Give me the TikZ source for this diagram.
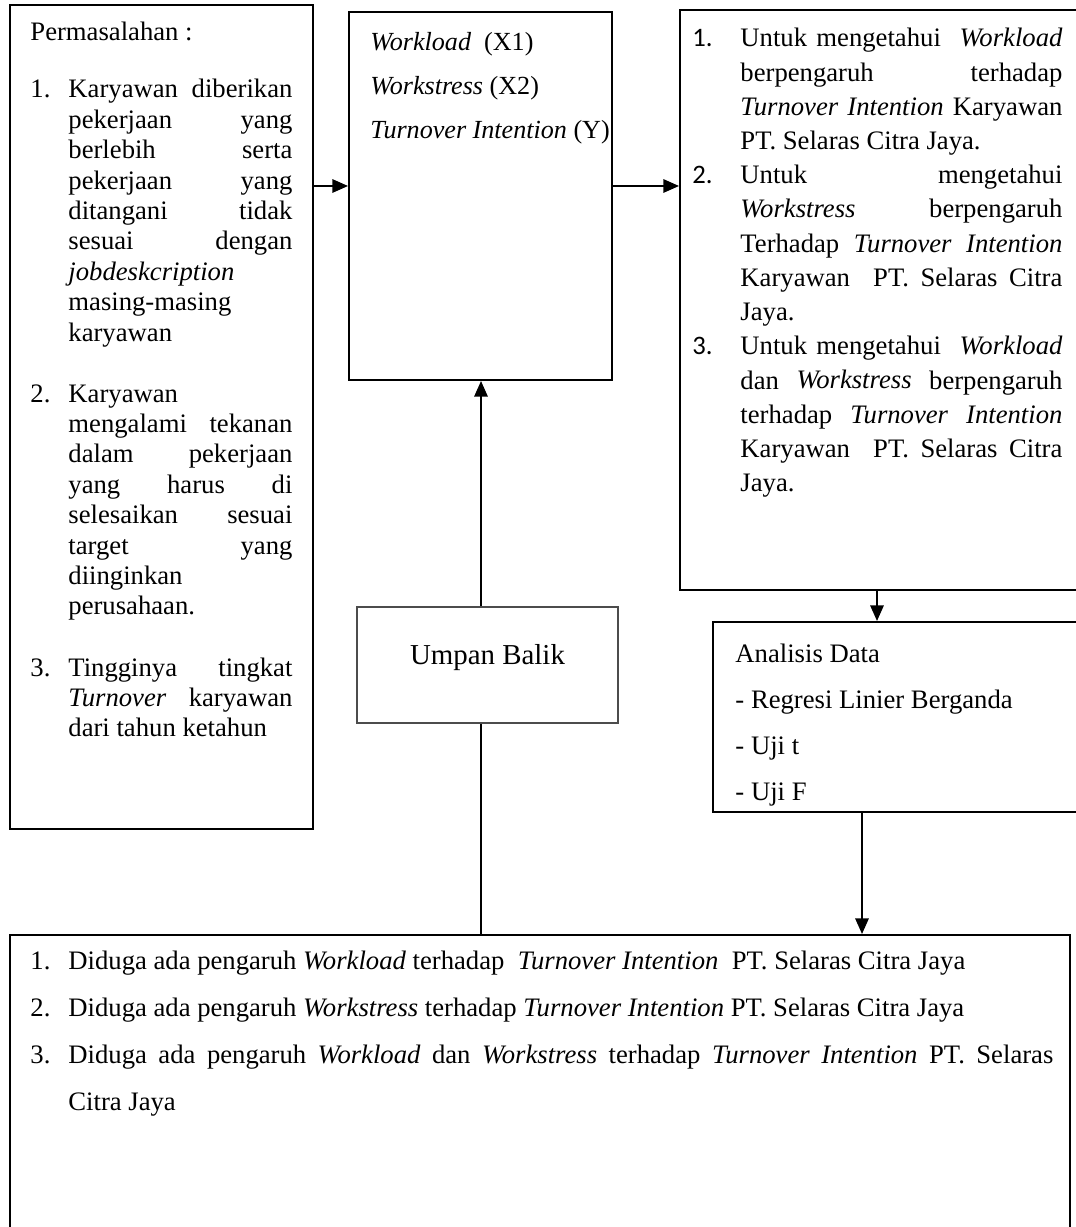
\documentclass[tikz,border=0pt]{standalone}
\usepackage{fontspec}
\setmainfont{Liberation Serif}
\newfontfamily\calibrifont{Carlito}
\usetikzlibrary{arrows.meta,fit}
\newlength\pxu
\setlength\pxu{0.45pt}
\newcommand\jl[1]{\makebox[\linewidth][s]{#1}}
\hbadness=10000
\begin{document}
\begin{tikzpicture}[x=0.45pt,y=-0.45pt,
  box/.style={draw, line width=0.9pt, inner sep=0pt},
  thinbox/.style={draw=black!70, line width=0.55pt, inner sep=0pt},
  txt/.style={inner sep=0pt, anchor=base west, font=\fontsize{12}{14}\selectfont},
  arr/.style={line width=0.8pt, -{Triangle[length=7pt,width=6pt]}},
  ln/.style={line width=0.8pt}]
\useasboundingbox (0,0) rectangle (1075,1227);

% boxes
\node[box, fit={(10,5)(313,829)}] (L) {};
\node[box, fit={(349,12)(612,380)}] (M) {};
\node[box, fit={(680,10)(1082,590)}] (R) {};
\node[box, fit={(713,622)(1082,812)}] (A) {};
\node[thinbox, fit={(357,607)(618,723)}] (U) {};
\node[box, fit={(10,935)(1070,1240)}] (B) {};

% left box text
\node[txt] (Lh) at (30,41) {Permasalahan :};
\node[txt] (Ln1) at (30,98) {1.};
\node[txt] (Lt1) at (68,98) {\parbox[t]{224\pxu}{\fontsize{12}{13.68}\selectfont
\jl{Karyawan diberikan}\\
\jl{pekerjaan yang}\\
\jl{berlebih serta}\\
\jl{pekerjaan yang}\\
\jl{ditangani tidak}\\
\jl{sesuai dengan}\\
\textit{jobdeskcription}\\
masing-masing\\
karyawan}};
\node[txt] (Ln2) at (30,402) {2.};
\node[txt] (Lt2) at (68,402) {\parbox[t]{224\pxu}{\fontsize{12}{13.68}\selectfont
Karyawan\\
\jl{mengalami tekanan}\\
\jl{dalam pekerjaan}\\
\jl{yang harus di}\\
\jl{selesaikan sesuai}\\
\jl{target yang}\\
diinginkan\\
perusahaan.}};
\node[txt] (Ln3) at (30,676) {3.};
\node[txt] (Lt3) at (68,676) {\parbox[t]{224\pxu}{\fontsize{12}{13.68}\selectfont
\jl{Tingginya tingkat}\\
\jl{\textit{Turnover} karyawan}\\
dari tahun ketahun}};

% middle box text
\node[txt] (Mt) at (370,51) {\parbox[t]{300\pxu}{\fontsize{11.75}{19.8}\selectfont
\textit{Workload}\ \ (X1)\\
\textit{Workstress} (X2)\\
\textit{Turnover Intention} (Y)}};

% right box text
\node[txt, font=\calibrifont\fontsize{12}{14}\selectfont] (Rn1) at (692,47) {1.};
\node[txt] (Rt1) at (740,47) {\parbox[t]{322\pxu}{\fontsize{12}{15.39}\selectfont
\jl{Untuk mengetahui \ \textit{Workload}}\\
\jl{berpengaruh terhadap}\\
\jl{\textit{Turnover Intention} Karyawan}\\
PT. Selaras Citra Jaya.}};
\node[txt, font=\calibrifont\fontsize{12}{14}\selectfont] (Rn2) at (692,183.8) {2.};
\node[txt] (Rt2) at (740,183.8) {\parbox[t]{322\pxu}{\fontsize{12}{15.39}\selectfont
\jl{Untuk mengetahui}\\
\jl{\textit{Workstress} berpengaruh}\\
\jl{Terhadap \textit{Turnover Intention}}\\
\jl{Karyawan \ PT. Selaras Citra}\\
Jaya.}};
\node[txt, font=\calibrifont\fontsize{12}{14}\selectfont] (Rn3) at (692,354.8) {3.};
\node[txt] (Rt3) at (740,354.8) {\parbox[t]{322\pxu}{\fontsize{12}{15.39}\selectfont
\jl{Untuk mengetahui \ \textit{Workload}}\\
\jl{dan \textit{Workstress} berpengaruh}\\
\jl{terhadap \textit{Turnover Intention}}\\
\jl{Karyawan \ PT. Selaras Citra}\\
Jaya.}};

% analisis
\node[txt] (At) at (735,662) {\parbox[t]{330\pxu}{\fontsize{12}{20.7}\selectfont
Analisis Data\\
- Regresi Linier Berganda\\
- Uji t\\
- Uji F}};

% umpan balik
\node[inner sep=0pt, anchor=base, font=\fontsize{13}{15}\selectfont] (Ut) at (487.5,664) {Umpan Balik};

% bottom box
\node[txt] (Bn1) at (30,969) {1.};
\node[txt] (Bt1) at (68,969) {Diduga ada pengaruh \textit{Workload} terhadap\ \ \textit{Turnover Intention}\ \ PT. Selaras Citra Jaya};
\node[txt] (Bn2) at (30,1016) {2.};
\node[txt] (Bt2) at (68,1016) {Diduga ada pengaruh \textit{Workstress} terhadap \textit{Turnover Intention} PT. Selaras Citra Jaya};
\node[txt] (Bn3) at (30,1063) {3.};
\node[txt] (Bt3) at (68,1063) {\parbox[t]{985\pxu}{\fontsize{12}{21.15}\selectfont
\jl{Diduga ada pengaruh \textit{Workload} dan \textit{Workstress} terhadap \textit{Turnover Intention} PT. Selaras}\\
Citra Jaya}};

% connectors
\coordinate (ya) at (0,186);
\coordinate (xb) at (877,0);
\coordinate (xc) at (862,0);
\coordinate (xd) at (481,0);
\draw[arr] (ya -| L.east) -- (ya -| M.west);
\draw[arr] (ya -| M.east) -- (ya -| R.west);
\draw[arr] (xb |- R.south) -- (xb |- A.north);
\draw[arr] (xc |- A.south) -- (xc |- B.north);
\draw[ln] (xd |- B.north) -- (xd |- U.south);
\draw[arr] (xd |- U.north) -- (xd |- M.south);
\end{tikzpicture}
\end{document}
